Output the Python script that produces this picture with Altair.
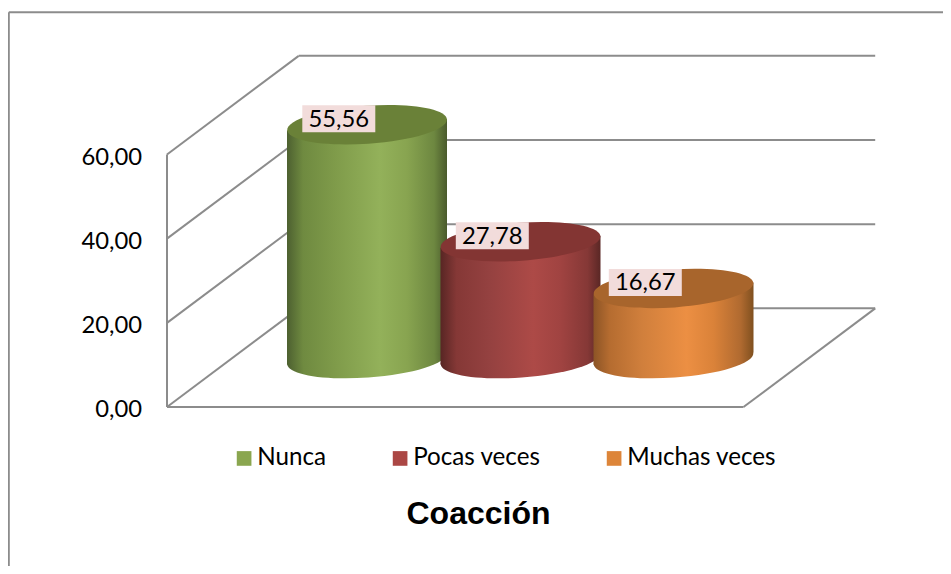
import altair as alt
import pandas as pd

# Data
series = ["Nunca", "Pocas veces", "Muchas veces"]
values = [55.56, 27.78, 16.67]
labels = ["55,56", "27,78", "16,67"]
ticks = [0, 20, 40, 60]
tick_labels = ["0,00", "20,00", "40,00", "60,00"]

# Colours
legend_colors = ["#8aa64f", "#ab4744", "#dd8539"]
top_colors = ["#6a8138", "#833533", "#a8652c"]
side_stops = [
    ["#4d6030", "#6f8a40", "#7f9b4a", "#93b15a", "#88a450", "#6d8740", "#4a5a2c"],
    ["#582624", "#853836", "#944140", "#ad4a47", "#a04341", "#853836", "#5a2725"],
    ["#8c5426", "#b56c30", "#d07f3c", "#ec8f43", "#da8239", "#b06a30", "#80501f"],
]
stop_offsets = [0, 0.1, 0.3, 0.58, 0.75, 0.92, 1]

# Geometry of the 3-D box, in picture pixels and axis units
PX0, PX1 = 167.0, 743.5       # front edge of the floor
DEPTH_X = 131.7               # horizontal depth of the box
DEPTH_Y = 23.44               # vertical depth of the box, in axis units
RIM = 11.5                    # centre of the cylinder bases, in axis units
TILT = 1.43                   # tilt of the cylinder rims, in axis units
CENTERS = [367.0, 520.5, 673.5]
HALF = 80.0
LINE = "#8c8c8c"
FONT = "Lato"

W, H = 935, 558
xs = alt.Scale(domain=[8, 8 + W], range=[0, W], nice=False, zero=False)
ys = alt.Scale(domain=[0, 60], range=[399, 146.5], nice=False, zero=False)


def X(f):
    return alt.X(f, type="quantitative", scale=xs, axis=None, title=None)


def Y(f):
    return alt.Y(f, type="quantitative", scale=ys, axis=None, title=None, stack=None)


# Frame of the chart area
frame = pd.DataFrame({"x": [8.8, 8.8], "x2": [8.8, 8 + W], "y": [93.8, 93.8], "y2": [-38, 93.8]})
frame_layer = alt.Chart(frame).mark_rule(color=LINE, strokeWidth=2).encode(
    x=X("x"), x2="x2", y=Y("y"), y2="y2"
)

# Value axis labels
axis_df = pd.DataFrame({"x": [142] * len(ticks), "y": ticks, "t": tick_labels})
axis_labels = alt.Chart(axis_df).mark_text(
    font=FONT, fontSize=23.8, color="#000000", align="right", baseline="middle", dy=3
).encode(x=X("x"), y=Y("y"), text="t:N")

# Walls and gridlines
rows = [dict(x=PX0, x2=PX0, y=0, y2=60), dict(x=PX0, x2=PX1, y=0, y2=0),
        dict(x=PX1, x2=PX1 + DEPTH_X, y=0, y2=DEPTH_Y)]
for t in ticks:
    rows.append(dict(x=PX0, x2=PX0 + DEPTH_X, y=t, y2=t + DEPTH_Y))
    rows.append(dict(x=PX0 + DEPTH_X, x2=PX1 + DEPTH_X, y=t + DEPTH_Y, y2=t + DEPTH_Y))
grid = alt.Chart(pd.DataFrame(rows)).mark_rule(color=LINE, strokeWidth=2).encode(
    x=X("x"), x2="x2", y=Y("y"), y2="y2"
)

ELLIPSE = "M-1,0A1,0.2375,0,1,1,1,0A1,0.2375,0,1,1,-1,0Z"

cyl_layers = []
for i in range(len(series)):
    c, v = CENTERS[i], values[i]
    grad = alt.Gradient(
        gradient="linear", x1=0, x2=1, y1=0, y2=0,
        stops=[alt.GradientStop(color=col, offset=o) for col, o in zip(side_stops[i], stop_offsets)],
    )
    body = pd.DataFrame({
        "x": [c - HALF, c + HALF],
        "top": [v + RIM - TILT, v + RIM + TILT],
        "base": [RIM - TILT, RIM + TILT],
    })
    cyl_layers.append(
        alt.Chart(pd.DataFrame({"x": [c], "y": [RIM]}))
        .mark_point(shape=ELLIPSE, size=25600, filled=True, fill=grad, opacity=1, angle=356, strokeWidth=0)
        .encode(x=X("x"), y=Y("y"))
    )
    cyl_layers.append(
        alt.Chart(body).mark_area(fill=grad, opacity=1).encode(x=X("x"), y=Y("top"), y2="base")
    )
    cyl_layers.append(
        alt.Chart(pd.DataFrame({"x": [c], "y": [v + RIM]}))
        .mark_point(shape=ELLIPSE, size=25600, filled=True, fill=top_colors[i], opacity=1, angle=356, strokeWidth=0)
        .encode(x=X("x"), y=Y("y"))
    )

# Value labels with their boxes
lab = pd.DataFrame({
    "x": [c - 28.2 for c in CENTERS],
    "x0": [c - 64.7 for c in CENTERS],
    "x1": [c + 8.3 for c in CENTERS],
    "y": [v + RIM + 1.43 for v in values],
    "y0": [v + RIM + 1.43 - 3.2 for v in values],
    "y1": [v + RIM + 1.43 + 3.2 for v in values],
    "t": labels,
})
boxes = alt.Chart(lab).mark_rect(color="#f2dcdb").encode(x=X("x0"), x2="x1", y=Y("y0"), y2="y1")
texts = alt.Chart(lab).mark_text(font=FONT, fontSize=23.8, color="#000000", baseline="middle", dy=1).encode(
    x=X("x"), y=Y("y"), text="t:N"
)

# Legend
leg = alt.Chart(pd.DataFrame({"s": series})).mark_square(opacity=0).encode(
    fill=alt.Fill(
        "s:N",
        scale=alt.Scale(domain=series, range=legend_colors),
        sort=series,
        legend=alt.Legend(
            orient="none", direction="horizontal", title=None, legendX=224, legendY=438,
            symbolType="square", symbolSize=215, symbolOpacity=1, symbolStrokeWidth=0,
            labelFont=FONT, labelFontSize=24.2, labelColor="#000000", labelOffset=1,
            columnPadding=61, padding=0,
        ),
    )
)

# Chart title, placed under the legend
title_df = pd.DataFrame({"x": [478.5], "y": [-25.5], "t": ["Coacción"]})
title_text = alt.Chart(title_df).mark_text(
    font="Liberation Sans", fontSize=32, fontWeight="bold", color="#000000", baseline="middle"
).encode(x=X("x"), y=Y("y"), text="t:N")

chart = alt.layer(frame_layer, grid, axis_labels, *cyl_layers, boxes, texts, title_text, leg).properties(
    width=W, height=H,
    autosize=alt.AutoSizeParams(type="none"),
    padding=0,
).configure(background="white").configure_view(stroke=None)

chart.save("out.html", embed_options={"renderer": "svg", "actions": False})
